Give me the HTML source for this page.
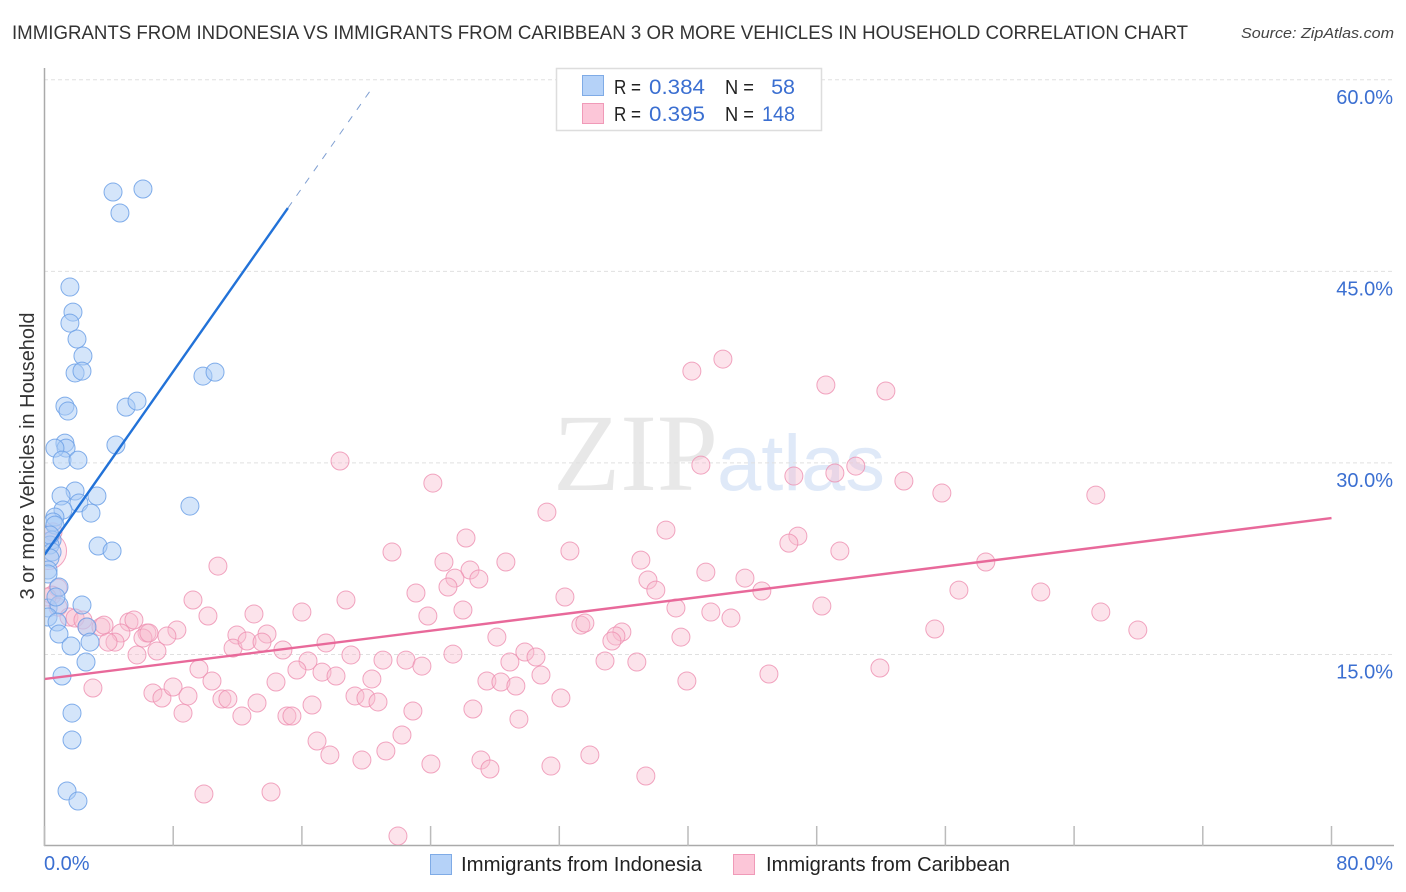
<!DOCTYPE html>
<html lang="en">
<head>
<meta charset="utf-8">
<title>Immigrants from Indonesia vs Immigrants from Caribbean correlation chart</title>
<style>
html,body{margin:0;padding:0;background:#fff;width:1406px;height:892px;overflow:hidden}
svg{display:block;font-family:"Liberation Sans",sans-serif}
.val{fill:#3b6fd1}
.blk{fill:#222}
</style>
</head>
<body>
<svg id="chart" width="1406" height="892" viewBox="0 0 1406 892" xmlns="http://www.w3.org/2000/svg">
  <defs>
    <clipPath id="plot-clip"><rect x="45" y="60" width="1349" height="785"/></clipPath>
  </defs>
  <text x="12" y="39" font-size="19.5" fill="#333" textLength="1176" lengthAdjust="spacingAndGlyphs">IMMIGRANTS FROM INDONESIA VS IMMIGRANTS FROM CARIBBEAN 3 OR MORE VEHICLES IN HOUSEHOLD CORRELATION CHART</text>
  <text x="1394" y="38" font-size="15" font-style="italic" fill="#444" text-anchor="end" textLength="153" lengthAdjust="spacingAndGlyphs">Source: ZipAtlas.com</text>
  <g>
    <text x="553" y="490" font-family="'Liberation Serif',serif" font-size="110" fill="#e8e8e8">ZIP</text>
    <text x="717" y="490" font-size="79" fill="#dfe9f8" textLength="168" lengthAdjust="spacingAndGlyphs">atlas</text>
  </g>
  <g id="grid"></g>
  <g id="axes"></g>
  <g clip-path="url(#plot-clip)">
    <g id="pink"></g>
    <g id="blue"></g>
    <g id="trends"></g>
  </g>
  <text transform="translate(34,456) rotate(-90)" font-size="20" fill="#333" text-anchor="middle" textLength="287" lengthAdjust="spacingAndGlyphs">3 or more Vehicles in Household</text>
  <g>
    <rect x="556.5" y="68.5" width="265" height="62" fill="#fff" stroke="#ddd" stroke-width="1.5"/>
    <rect x="582.5" y="75.5" width="21" height="20" fill="#b5d2f8" stroke="#7fabe6"/>
    <rect x="582.5" y="103.5" width="21" height="20" fill="#fcc6d8" stroke="#f09ab8"/>
    <text class="blk" x="614" y="94" font-size="20" textLength="27" lengthAdjust="spacingAndGlyphs">R =</text>
    <text class="val" x="649" y="94" font-size="21.5" textLength="56" lengthAdjust="spacingAndGlyphs">0.384</text>
    <text class="blk" x="725" y="94" font-size="20" textLength="29" lengthAdjust="spacingAndGlyphs">N =</text>
    <text class="val" x="795" y="94" font-size="21.5" text-anchor="end">58</text>
    <text class="blk" x="614" y="121" font-size="20" textLength="27" lengthAdjust="spacingAndGlyphs">R =</text>
    <text class="val" x="649" y="121" font-size="21.5" textLength="56" lengthAdjust="spacingAndGlyphs">0.395</text>
    <text class="blk" x="725" y="121" font-size="20" textLength="29" lengthAdjust="spacingAndGlyphs">N =</text>
    <text class="val" x="795" y="121" font-size="21.5" text-anchor="end" textLength="33" lengthAdjust="spacingAndGlyphs">148</text>
  </g>
  <g>
    <rect x="430.5" y="854.5" width="21" height="20" fill="#b5d2f8" stroke="#7fabe6"/>
    <text x="461" y="871" font-size="20" fill="#222" textLength="241" lengthAdjust="spacingAndGlyphs">Immigrants from Indonesia</text>
    <rect x="733.5" y="854.5" width="21" height="20" fill="#fcc6d8" stroke="#f09ab8"/>
    <text x="766" y="871" font-size="20" fill="#222" textLength="244" lengthAdjust="spacingAndGlyphs">Immigrants from Caribbean</text>
  </g>
</svg>
<script>
var yTickValues = [15, 30, 45, 60];
var yTickLabels = ["15.0%", "30.0%", "45.0%", "60.0%"];
var xTickValues = [0, 8, 16, 24, 32, 40, 48, 56, 64, 72, 80];
var xEndLabels = ["0.0%", "80.0%"];

var indonesiaX = [6.12,4.26,4.69,1.58,1.77,1.58,2.02,2.39,1.90,2.33,9.85,10.60,1.27,1.46,5.07,5.75,4.44,1.27,1.34,0.65,1.09,2.08,1.90,1.03,3.26,2.14,2.89,9.04,1.15,0.65,0.53,0.65,3.33,4.20,0.47,0.34,0.47,0.34,0.22,0.22,0.90,2.33,0.22,0.90,0.22,0.78,0.90,1.65,2.64,2.83,2.58,1.09,1.71,1.71,1.40,2.08,0.34,0.71];
var indonesiaY = [51.45,51.21,49.57,43.77,41.81,40.95,39.70,38.37,37.04,37.19,36.80,37.11,34.45,34.06,34.37,34.84,31.40,31.55,31.16,31.16,30.22,30.22,27.80,27.41,27.41,26.86,26.07,26.62,26.31,25.76,25.37,25.13,23.49,23.10,23.96,23.57,23.02,22.55,21.61,21.30,20.28,18.87,18.64,18.87,17.93,17.54,16.60,15.66,17.15,15.97,14.41,13.31,10.41,8.30,4.31,3.52,24.35,19.50];

var caribbeanX = [42.17,40.24,48.57,52.30,18.37,40.80,50.43,49.13,46.58,24.14,53.42,55.78,65.35,31.23,38.63,46.83,46.27,26.20,21.60,32.66,49.44,37.07,24.83,26.45,10.78,28.68,58.51,41.11,25.51,27.00,43.54,37.51,38.00,23.09,25.08,32.35,44.59,56.84,61.93,9.23,18.74,48.32,39.25,26.01,41.42,65.66,13.02,16.00,23.83,10.16,42.67,33.34,33.59,35.89,35.52,35.27,28.12,55.34,67.96,39.56,8.23,11.96,13.83,11.72,12.59,13.52,14.82,17.50,19.05,21.04,22.47,23.46,25.39,29.86,30.55,28.93,34.84,36.82,51.93,45.03,9.60,16.38,15.69,17.25,18.12,20.35,14.39,10.41,27.50,28.37,29.30,30.86,39.93,6.74,7.30,7.99,8.92,8.61,11.03,11.40,12.27,13.21,15.07,15.38,16.63,19.30,19.98,20.73,22.90,26.63,29.49,32.10,16.94,17.74,19.73,21.22,22.22,24.02,27.13,27.69,31.48,33.90,37.38,9.91,14.08,21.97,3.01,5.75,6.99,0.84,0.47,0.84,1.52,1.90,2.39,2.64,3.51,3.70,5.25,5.56,4.75,4.38,3.95,6.37,6.12,6.49,7.61,0.53,0.16];
var caribbeanY = [38.13,37.19,36.10,35.63,30.15,29.83,29.75,29.21,28.97,28.42,28.58,27.64,27.48,26.15,24.74,24.27,23.72,24.12,23.02,23.10,23.10,22.39,22.24,21.61,21.92,22.24,22.24,21.45,20.98,20.91,20.98,20.83,20.04,19.81,20.28,19.50,19.97,20.04,19.89,19.26,19.26,18.79,18.64,18.48,18.32,18.32,18.17,18.32,18.01,18.01,17.85,17.30,17.46,16.76,16.44,16.05,16.36,16.99,16.91,16.36,16.91,16.52,16.60,15.50,16.05,15.97,15.35,15.90,14.96,14.56,14.56,14.09,15.03,15.19,14.80,14.41,14.49,14.41,13.94,13.47,13.86,14.49,13.78,13.62,13.31,13.08,12.84,12.92,12.92,12.84,12.53,13.39,12.92,11.98,11.59,12.45,11.75,10.41,11.51,11.51,10.18,11.20,10.18,10.18,11.04,11.75,11.59,11.28,10.57,10.73,9.94,11.59,8.22,7.13,6.73,7.44,8.69,6.42,6.73,6.03,6.26,7.13,5.48,4.07,4.23,0.78,12.37,14.96,15.27,20.20,19.65,18.71,17.93,17.85,17.70,17.15,17.15,17.30,17.54,17.70,16.68,15.97,15.97,16.68,16.29,16.68,16.44,24.60,19.50];
var caribbeanLargeX = [0.22];
var caribbeanLargeY = [23.10];

var indonesiaTrendX = [0, 15.13, 20.48];
var indonesiaTrendY = [22.8, 49.96, 59.56];
var caribbeanTrendX = [0, 80];
var caribbeanTrendY = [13.08, 25.68];

var NS = 'http://www.w3.org/2000/svg';
function sx(v){ return 44.5 + v * 16.0875; }
function sy(v){ return 846 - v * 12.77; }
function make(tag, parent, attrs){
  var el = document.createElementNS(NS, tag);
  for (var k in attrs) el.setAttribute(k, attrs[k]);
  document.getElementById(parent).appendChild(el);
  return el;
}

yTickValues.forEach(function(v, i){
  var line = make('line', 'grid', {x1:44, x2:1394, y1:sy(v), y2:sy(v), stroke:'#e0e0e0', 'stroke-width':1, 'stroke-dasharray':'4 3'});
  
  
  var label = make('text', 'axes', {x:1393, y:sy(v) + 24, 'font-size':20, 'text-anchor':'end', fill:'#3b6fd1'});
  label.textContent = yTickLabels[i];
  
  
});

var yAxis = make('line', 'axes', {x1:44.5, x2:44.5, y1:68, y2:846, stroke:'#aaa', 'stroke-width':1.5});


var xAxis = make('line', 'axes', {x1:44, x2:1394, y1:845.5, y2:845.5, stroke:'#aaa', 'stroke-width':1.5});



xTickValues.forEach(function(v){
  var tick = make('line', 'axes', {x1:sx(v), x2:sx(v), y1:826, y2:846, stroke:'#bbb', 'stroke-width':1.5});
  
  
});

var xStart = make('text', 'axes', {x:44, y:870, 'font-size':20, fill:'#3b6fd1'});
xStart.textContent = xEndLabels[0];


var xEnd = make('text', 'axes', {x:1393, y:870, 'font-size':20, 'text-anchor':'end', fill:'#3b6fd1'});
xEnd.textContent = xEndLabels[1];



caribbeanLargeX.forEach(function(v, i){
  var c = make('circle', 'pink', {cx:sx(v), cy:sy(caribbeanLargeY[i]), r:18.5, fill:'#f8bdd0', 'fill-opacity':0.35, stroke:'#ee8fb0', 'stroke-opacity':0.8, 'stroke-width':1});
  
  
});
caribbeanX.forEach(function(v, i){
  var c = make('circle', 'pink', {cx:sx(v), cy:sy(caribbeanY[i]), r:9, fill:'#f8bdd0', 'fill-opacity':0.42, stroke:'#ee8fb0', 'stroke-opacity':0.8, 'stroke-width':1});
  
  
});
indonesiaX.forEach(function(v, i){
  var c = make('circle', 'blue', {cx:sx(v), cy:sy(indonesiaY[i]), r:9, fill:'#a9cbf6', 'fill-opacity':0.5, stroke:'#6ca0e6', 'stroke-opacity':0.85, 'stroke-width':1});
  
  
});

var blueSolid = make('line', 'trends', {x1:sx(indonesiaTrendX[0]), y1:sy(indonesiaTrendY[0]), x2:sx(indonesiaTrendX[1]), y2:sy(indonesiaTrendY[1]), stroke:'#2272d8', 'stroke-width':2.4});


var blueDash = make('line', 'trends', {x1:sx(indonesiaTrendX[1]), y1:sy(indonesiaTrendY[1]), x2:sx(indonesiaTrendX[2]), y2:sy(indonesiaTrendY[2]), stroke:'#7f9fd2', 'stroke-width':1, 'stroke-dasharray':'7 8'});


var pinkLine = make('line', 'trends', {x1:sx(caribbeanTrendX[0]), y1:sy(caribbeanTrendY[0]), x2:sx(caribbeanTrendX[1]), y2:sy(caribbeanTrendY[1]), stroke:'#e8699a', 'stroke-width':2.4});


</script>
</body>
</html>
